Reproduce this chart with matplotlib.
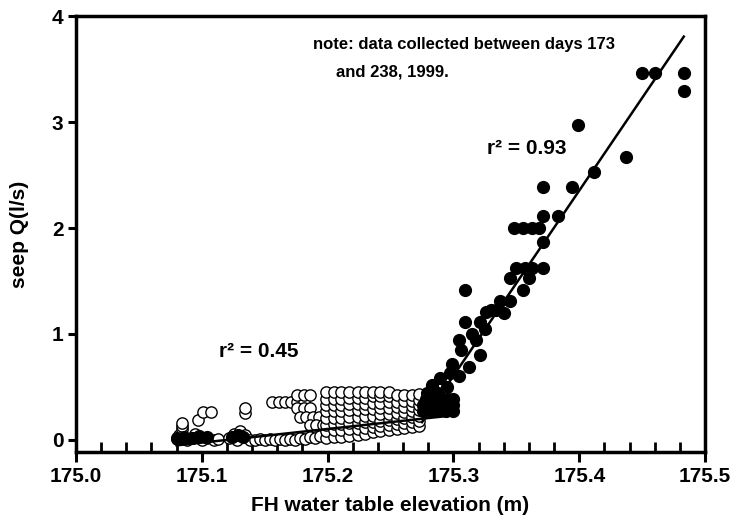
import matplotlib.pyplot as plt
from matplotlib.ticker import MultipleLocator

plt.rcParams['font.family'] = ['Liberation Sans', 'DejaVu Sans']
plt.rcParams['font.weight'] = 'bold'

# filled points (second period)
filled_x = [175.080, 175.086, 175.092, 175.098, 175.104, 175.124, 175.129, 175.133,
            175.276, 175.282, 175.288, 175.294, 175.300,
            175.276, 175.282, 175.288, 175.294, 175.300,
            175.278, 175.284, 175.290, 175.296, 175.300,
            175.279, 175.283, 175.288, 175.289, 175.295, 175.297, 175.299, 175.304,
            175.304, 175.306, 175.309, 175.309, 175.312, 175.315, 175.318, 175.321,
            175.321, 175.325, 175.326, 175.330, 175.334, 175.337, 175.340, 175.345,
            175.345, 175.355, 175.360, 175.350, 175.357, 175.362, 175.371, 175.371,
            175.348, 175.355, 175.362, 175.368, 175.371, 175.383, 175.371, 175.394,
            175.4115, 175.437, 175.399, 175.450, 175.460, 175.483, 175.483]
filled_y = [0.02, 0.03, 0.02, 0.04, 0.03, 0.03, 0.05, 0.03,
            0.27, 0.27, 0.27, 0.27, 0.27,
            0.33, 0.33, 0.33, 0.33, 0.33,
            0.39, 0.39, 0.39, 0.39, 0.39,
            0.44, 0.52, 0.44, 0.58, 0.50, 0.63, 0.72, 0.60,
            0.94, 0.85, 1.115, 1.415, 0.69, 1.00, 0.94, 0.80,
            1.115, 1.05, 1.21, 1.23, 1.23, 1.31, 1.20, 1.31,
            1.525, 1.415, 1.525, 1.625, 1.625, 1.625, 1.625, 1.87,
            2.00, 2.00, 2.00, 2.00, 2.116, 2.116, 2.39, 2.39,
            2.525, 2.67, 2.97, 3.465, 3.465, 3.465, 3.295]

# open points (first period) outside the dense block
open_x = [175.080, 175.082, 175.084, 175.084, 175.084, 175.088, 175.092, 175.095,
          175.097, 175.101, 175.107, 175.100, 175.104, 175.110, 175.113,
          175.134, 175.134, 175.122, 175.126, 175.130, 175.134, 175.128,
          175.138, 175.142, 175.146, 175.150, 175.154, 175.158, 175.162, 175.166,
          175.170, 175.174, 175.178, 175.182, 175.186, 175.190, 175.194,
          175.156, 175.161, 175.166, 175.171, 175.176, 175.181,
          175.176, 175.181, 175.186, 175.176, 175.181, 175.186,
          175.178, 175.183, 175.188, 175.193, 175.186, 175.191, 175.196]
open_y = [0.01, 0.05, 0.10, 0.13, 0.16, 0.00, 0.02, 0.06,
          0.19, 0.26, 0.26, 0.00, 0.02, 0.00, 0.01,
          0.25, 0.30, 0.02, 0.06, 0.08, 0.05, 0.00,
          0.00, 0.00, 0.01, 0.00, 0.01, 0.00, 0.01, 0.00,
          0.01, 0.00, 0.02, 0.01, 0.03, 0.02, 0.04,
          0.36, 0.36, 0.36, 0.36, 0.36, 0.36,
          0.42, 0.42, 0.42, 0.30, 0.30, 0.30,
          0.22, 0.22, 0.22, 0.22, 0.14, 0.14, 0.14]

# dense block of open points, one list of y values per column
block_cols = [175.199, 175.205, 175.211, 175.217, 175.224, 175.230, 175.236,
              175.242, 175.249, 175.255, 175.261, 175.267, 175.273]
block_rows = [[0.02, 0.08, 0.14, 0.21, 0.27, 0.33, 0.39, 0.45],
              [0.03, 0.09, 0.15, 0.21, 0.27, 0.33, 0.39, 0.45],
              [0.03, 0.09, 0.15, 0.21, 0.27, 0.33, 0.39, 0.45],
              [0.04, 0.10, 0.16, 0.22, 0.28, 0.34, 0.40, 0.45],
              [0.05, 0.10, 0.16, 0.22, 0.28, 0.34, 0.40, 0.45],
              [0.06, 0.11, 0.17, 0.23, 0.29, 0.34, 0.40, 0.45],
              [0.07, 0.12, 0.17, 0.23, 0.29, 0.35, 0.41, 0.45],
              [0.08, 0.13, 0.18, 0.24, 0.30, 0.35, 0.41, 0.45],
              [0.09, 0.14, 0.19, 0.24, 0.30, 0.36, 0.41, 0.45],
              [0.10, 0.15, 0.20, 0.25, 0.31, 0.36, 0.42],
              [0.11, 0.16, 0.21, 0.26, 0.31, 0.37, 0.42],
              [0.12, 0.17, 0.22, 0.27, 0.32, 0.37, 0.42],
              [0.13, 0.18, 0.23, 0.28, 0.33, 0.38, 0.43]]

# regression lines: (slope, intercept at 175.0, x start, x end)
fit_045 = (1.29, -0.1548, 175.08, 175.30)
fit_093 = (17.5, -4.645, 175.275, 175.483)

blk_x = [c for c, ys in zip(block_cols, block_rows) for _ in ys]
blk_y = [y for ys in block_rows for y in ys]

fig = plt.figure(figsize=(7.3, 5.23), dpi=100)
ax = fig.add_axes([0.104, 0.136, 0.862, 0.833])

ax.scatter(open_x + blk_x, open_y + blk_y, s=66, facecolors='white',
           edgecolors='black', linewidths=1.0, zorder=2)
ax.scatter(filled_x, filled_y, s=72, color='black', zorder=3)

for slope, icpt, x0, x1 in (fit_045, fit_093):
    ax.plot([x0, x1], [icpt + slope * (x0 - 175.0), icpt + slope * (x1 - 175.0)],
            color='black', lw=1.8, zorder=4)

ax.set_xlim(175.0, 175.5)
ax.set_ylim(-0.113, 4.0)
ax.xaxis.set_major_locator(MultipleLocator(0.1))
ax.xaxis.set_minor_locator(MultipleLocator(0.02))
ax.yaxis.set_major_locator(MultipleLocator(1))
ax.xaxis.set_major_formatter(plt.FormatStrFormatter('%.1f'))

ax.tick_params(axis='x', which='major', direction='out', length=7, width=2.2,
               labelsize=15, pad=4)
ax.tick_params(axis='x', which='minor', direction='in', length=7, width=2.0)
ax.tick_params(axis='y', which='major', direction='out', length=6, width=2.2,
               labelsize=15, pad=3)
for sp in ax.spines.values():
    sp.set_linewidth(2.5)

ax.set_xlabel('FH water table elevation (m)', fontsize=15, fontweight='bold', labelpad=7)
ax.set_ylabel('seep Q(l/s)', fontsize=15, fontweight='bold', labelpad=16)

ax.text(175.327, 2.75, 'r² = 0.93', fontsize=15, fontweight='bold', va='center')
ax.text(175.114, 0.83, 'r² = 0.45', fontsize=15, fontweight='bold', va='center')
ax.text(175.188, 3.73, 'note: data collected between days 173', fontsize=12,
        fontweight='bold', va='center')
ax.text(175.207, 3.47, 'and 238, 1999.', fontsize=12, fontweight='bold', va='center')

plt.savefig('out.png', dpi=100)
